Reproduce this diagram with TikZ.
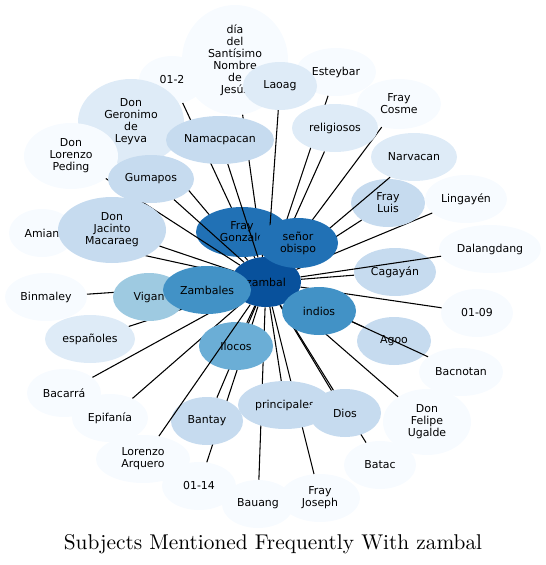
\documentclass[tikz,border=0pt]{standalone}
\usepackage{fontspec}
\newfontfamily\nodefont{DejaVu Sans}
\newfontfamily\titlefont{lmroman10-regular}[Extension=.otf]
\usepackage{tikz}
\usetikzlibrary{shapes.geometric}

\definecolor{blue1}{HTML}{F7FBFF}
\definecolor{blue2}{HTML}{DEEBF7}
\definecolor{blue3}{HTML}{C6DBEF}
\definecolor{blue4}{HTML}{9ECAE1}
\definecolor{blue5}{HTML}{6BAED6}
\definecolor{blue6}{HTML}{4292C6}
\definecolor{blue7}{HTML}{2171B5}
\definecolor{blue8}{HTML}{08519C}

\tikzset{
    topic/.style={ellipse, fill=#1, inner sep=0pt, minimum height=36pt, align=center,
        font=\nodefont\fontsize{8.2}{9}\selectfont},
    link/.style={draw=black, line width=0.8pt}
}

\begin{document}
\begin{tikzpicture}[x=0.75pt, y=-0.75pt]
    \useasboundingbox (0,0) rectangle (546,565);

    \node [topic=blue8, minimum width=52.5pt, minimum height=37.5pt] (zambal) at (266,282) {zambal};

    \node [topic=blue1, minimum width=49.5pt] (n012) at (172,80) {01-2};
    \draw [link] (n012) -- (zambal);
    \node [topic=blue1, minimum width=79.5pt, minimum height=82.5pt] (dia) at (235,60) {día\\del\\Santísimo\\Nombre\\de\\Jesús};
    \draw [link] (dia) -- (zambal);
    \node [topic=blue2, minimum width=79.5pt, minimum height=64.5pt] (geronimo) at (131,122) {Don\\Geronimo\\de\\Leyva};
    \draw [link] (geronimo) -- (zambal);
    \node [topic=blue1, minimum width=49.5pt] (amian) at (42,233) {Amian};
    \draw [link] (amian) -- (zambal);
    \node [topic=blue1, minimum width=61.5pt] (binmaley) at (46,297) {Binmaley};
    \draw [link] (binmaley) -- (zambal);
    \node [topic=blue2, minimum width=67.5pt] (espanoles) at (90,339) {españoles};
    \draw [link] (espanoles) -- (zambal);
    \node [topic=blue1, minimum width=55.5pt] (bacarra) at (64,393) {Bacarrá};
    \draw [link] (bacarra) -- (zambal);
    \node [topic=blue1, minimum width=57pt] (epifania) at (110,418) {Epifanía};
    \draw [link] (epifania) -- (zambal);
    \node [topic=blue1, minimum width=55.5pt] (n0114) at (199,486) {01-14};
    \draw [link] (n0114) -- (zambal);
    \node [topic=blue3, minimum width=54pt] (bantay) at (207,421) {Bantay};
    \draw [link] (bantay) -- (zambal);
    \node [topic=blue1, minimum width=54pt] (bauang) at (258,504) {Bauang};
    \draw [link] (bauang) -- (zambal);
    \node [topic=blue1, minimum width=60pt] (joseph) at (320,498) {Fray\\Joseph};
    \draw [link] (joseph) -- (zambal);
    \node [topic=blue1, minimum width=66pt, minimum height=49.5pt] (ugalde) at (427,422) {Don\\Felipe\\Ugalde};
    \draw [link] (ugalde) -- (zambal);
    \node [topic=blue1, minimum width=54pt] (batac) at (380,465) {Batac};
    \draw [link] (batac) -- (zambal);
    \node [topic=blue3, minimum width=55.5pt] (agoo) at (394,341) {Agoo};
    \draw [link] (agoo) -- (zambal);
    \node [topic=blue1, minimum width=63pt] (bacnotan) at (461,372) {Bacnotan};
    \draw [link] (bacnotan) -- (zambal);
    \node [topic=blue1, minimum width=54pt] (n0109) at (477,313) {01-09};
    \draw [link] (n0109) -- (zambal);
    \node [topic=blue3, minimum width=61.5pt] (cagayan) at (395,272) {Cagayán};
    \draw [link] (cagayan) -- (zambal);
    \node [topic=blue1, minimum width=76.5pt] (dalangdang) at (490,249) {Dalangdang};
    \draw [link] (dalangdang) -- (zambal);
    \node [topic=blue1, minimum width=61.5pt] (lingayen) at (466,199) {Lingayén};
    \draw [link] (lingayen) -- (zambal);
    \node [topic=blue3, minimum width=55.5pt] (luis) at (388,203) {Fray\\Luis};
    \draw [link] (luis) -- (zambal);
    \node [topic=blue1, minimum width=63pt, minimum height=37.5pt] (cosme) at (399,104) {Fray\\Cosme};
    \draw [link] (cosme) -- (zambal);
    \node [topic=blue2, minimum width=64.5pt] (narvacan) at (414,157) {Narvacan};
    \draw [link] (narvacan) -- (zambal);
    \node [topic=blue1, minimum width=60pt] (esteybar) at (336,72) {Esteybar};
    \draw [link] (esteybar) -- (zambal);
    \node [topic=blue2, minimum width=64.5pt] (religiosos) at (335,128) {religiosos};
    \draw [link] (religiosos) -- (zambal);
    \node [topic=blue7, minimum width=69pt, minimum height=37.5pt] (gonzalo) at (242,232) {Fray\\Gonzalo};
    \node [topic=blue2, minimum width=55.5pt] (laoag) at (280,86) {Laoag};
    \draw [link] (laoag) -- (zambal);
    \node [topic=blue3, minimum width=81pt] (namacpacan) at (220,140) {Namacpacan};
    \draw [link] (namacpacan) -- (zambal);
    \node [topic=blue1, minimum width=70.5pt, minimum height=49.5pt] (peding) at (71,156) {Don\\Lorenzo\\Peding};
    \draw [link] (peding) -- (zambal);
    \node [topic=blue3, minimum width=81pt, minimum height=49.5pt] (macaraeg) at (112,230) {Don\\Jacinto\\Macaraeg};
    \draw [link] (macaraeg) -- (zambal);
    \node [topic=blue3, minimum width=64.5pt] (gumapos) at (151,179) {Gumapos};
    \draw [link] (gumapos) -- (zambal);
    \node [topic=blue4, minimum width=54pt] (vigan) at (149,297) {Vigan};
    \draw [link] (vigan) -- (zambal);
    \node [topic=blue6, minimum width=66pt] (zambales) at (207,290) {Zambales};
    \node [topic=blue5, minimum width=55.5pt] (ilocos) at (236,346) {Ilocos};
    \draw [link] (ilocos) -- (zambal);
    \node [topic=blue1, minimum width=70.5pt] (arquero) at (143,459) {Lorenzo\\Arquero};
    \draw [link] (arquero) -- (zambal);
    \node [topic=blue3, minimum width=70.5pt] (principales) at (285,405) {principales};
    \draw [link] (principales) -- (zambal);
    \node [topic=blue3, minimum width=54pt] (dios) at (345,413) {Dios};
    \draw [link] (dios) -- (zambal);
    \node [topic=blue6, minimum width=55.5pt] (indios) at (319,311) {indios};
    \node [topic=blue7, minimum width=60pt, minimum height=37.5pt] (obispo) at (298,243) {señor\\obispo};

    \node [anchor=base, font=\titlefont\fontsize{16}{19}\selectfont] (title) at (273,549) {Subjects Mentioned Frequently With zambal};
\end{tikzpicture}
\end{document}
